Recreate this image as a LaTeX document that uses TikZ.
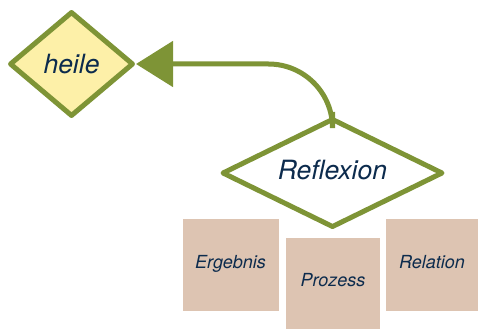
\documentclass[tikz,border=0pt]{standalone}
\usepackage{fontspec}
\newfontfamily\heros{TeX Gyre Heros}
\usetikzlibrary{arrows.meta,shapes.geometric}
\definecolor{olive}{RGB}{126,148,54}
\definecolor{lemon}{RGB}{253,240,168}
\definecolor{sand}{RGB}{221,196,178}
\definecolor{navy}{RGB}{12,43,77}

\begin{document}
\begin{tikzpicture}[x=1pt, y=-1pt, every node/.style={text=navy, font=\heros\itshape},
	decision/.style={diamond, draw=olive, line width=5pt, line join=round, inner sep=0pt, font=\heros\itshape\fontsize{26.5}{30}\selectfont},
	aspectbox/.style={fill=sand, inner sep=0pt, text height=13pt, text depth=7pt, font=\heros\itshape\fontsize{18}{20}\selectfont}]
	\useasboundingbox (0,0) rectangle (479,329);
	\node[decision, fill=lemon, minimum width=124pt, minimum height=105pt] (heile) at (71.5,64) {heile};
	\node[decision, fill=white, minimum width=221pt, minimum height=80pt] (refl) at (332.5,173) {\smash{\raisebox{-6pt}{Reflexion}}};
	\foreach \n/\p/\w/\h/\t in {erg/{(230.5,265)}/96/92/Ergebnis, proz/{(333,283.5)}/94/91/Prozess, rel/{(432,265)}/92/92/Relation} {
		\node[aspectbox, minimum width=\w pt, minimum height=\h pt] (\n) at \p {\t};
	}
	\draw[olive, line width=5pt, rounded corners=64pt, shorten <=-4pt, -{Triangle[length=37pt, width=45pt]}] (refl.north) |- (heile.east);
\end{tikzpicture}
\end{document}
